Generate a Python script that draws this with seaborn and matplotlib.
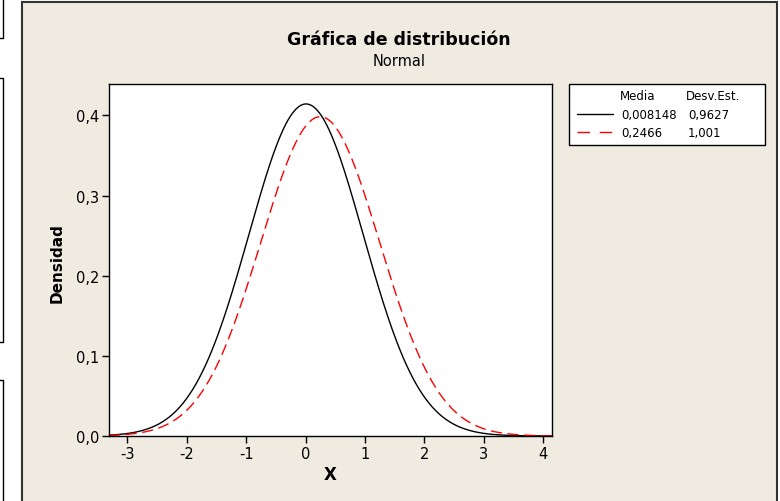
import numpy as np
import pandas as pd
import seaborn as sns
import matplotlib.pyplot as plt
from matplotlib.patches import Rectangle
from matplotlib.ticker import FuncFormatter

# Distribution parameters (from the legend)
means = [0.008148, 0.2466]
std_devs = [0.9627, 1.001]
mean_labels = ['0,008148', '0,2466']
sd_labels = ['0,9627', '1,001']
x_ticks = [-3, -2, -1, 0, 1, 2, 3, 4]
y_ticks = [0.0, 0.1, 0.2, 0.3, 0.4]

W, H = 780, 502
sns.set_theme(style='white')
plt.rcParams['font.family'] = ['DejaVu Sans']
plt.rcParams['text.color'] = 'black'
plt.rcParams['axes.unicode_minus'] = False

fig = plt.figure(figsize=(W / 100, H / 100), dpi=100)
fig.patch.set_facecolor('white')


def fx(px):
    return px / W


def fy(py):
    return 1 - py / H


# beige panel + the window edges seen on the left of the screenshot
fig.patches.append(Rectangle((fx(22), fy(520)), fx(777 - 22), (520 - 3) / H,
                             transform=fig.transFigure, facecolor='#EFEBE1',
                             edgecolor='#333333', linewidth=1.5, zorder=-2))
for top, bot in [(-5, 39), (79, 343), (381, 520)]:
    fig.patches.append(Rectangle((fx(-10), fy(bot)), fx(13), (bot - top) / H,
                                 transform=fig.transFigure, facecolor='white',
                                 edgecolor='black', linewidth=1, zorder=-2))

ax = fig.add_axes([fx(109), fy(437), fx(552 - 109), (437 - 85) / H])
ax.set_zorder(2)
ax.set_facecolor('white')

# curves from the parameters
x = np.linspace(-3.31, 4.15, 400)
rows = []
for i, (m, s) in enumerate(zip(means, std_devs)):
    dens = np.exp(-0.5 * ((x - m) / s) ** 2) / (s * np.sqrt(2 * np.pi))
    rows.append(pd.DataFrame({'x': x, 'dens': dens, 'serie': mean_labels[i]}))
df = pd.concat(rows)

sns.lineplot(data=df[df.serie == mean_labels[0]], x='x', y='dens', color='black',
             linewidth=1.0, ax=ax, legend=False)
sns.lineplot(data=df[df.serie == mean_labels[1]], x='x', y='dens', color='#FF0000',
             linewidth=1.0, ax=ax, legend=False)
ax.lines[1].set_dashes([8, 4])

ax.set_xlim(-3.31, 4.15)
ax.set_ylim(0, 0.4393)
ax.set_xticks(x_ticks)
ax.set_yticks(y_ticks)
ax.yaxis.set_major_formatter(FuncFormatter(lambda v, p: f'{v:.1f}'.replace('.', ',')))
ax.tick_params(axis='both', which='major', direction='out', length=5, width=1,
               color='black', labelsize=10.5, labelcolor='black', pad=2,
               bottom=True, left=True)
for sp in ax.spines.values():
    sp.set_color('black')
    sp.set_linewidth(1)
ax.set_xlabel('')
ax.set_ylabel('')

fig.text(fx(57), fy(263), 'Densidad', rotation=90, ha='center', va='center',
         fontsize=11, fontweight='bold')
fig.text(fx(330), fy(475), 'X', ha='center', va='center',
         fontsize=12, fontweight='bold')
fig.text(fx(399), fy(40), 'Gráfica de distribución', ha='center', va='center',
         fontsize=12.5, fontweight='bold')
fig.text(fx(399), fy(61), 'Normal', ha='center', va='center', fontsize=10.5)

# legend table
fig.patches.append(Rectangle((fx(569), fy(146)), fx(765 - 569), (146 - 85) / H,
                             transform=fig.transFigure, facecolor='white',
                             edgecolor='black', linewidth=1, zorder=-1))
fig.text(fx(638), fy(97), 'Media', ha='center', va='center', fontsize=8.5)
fig.text(fx(713), fy(97), 'Desv.Est.', ha='center', va='center', fontsize=8.5)
styles = [dict(color='black', linestyle='-'), dict(color='#FF0000', linestyle=(0, (9, 7)))]
for i, ypx in enumerate([115, 133]):
    fig.add_artist(plt.Line2D([fx(577), fx(613)], [fy(ypx), fy(ypx)],
                              transform=fig.transFigure, linewidth=1, **styles[i]))
    fig.text(fx(621), fy(ypx), mean_labels[i], ha='left', va='center', fontsize=8.5)
    fig.text(fx(688), fy(ypx), sd_labels[i], ha='left', va='center', fontsize=8.5)

fig.savefig('out.png', dpi=100, facecolor=fig.get_facecolor())
